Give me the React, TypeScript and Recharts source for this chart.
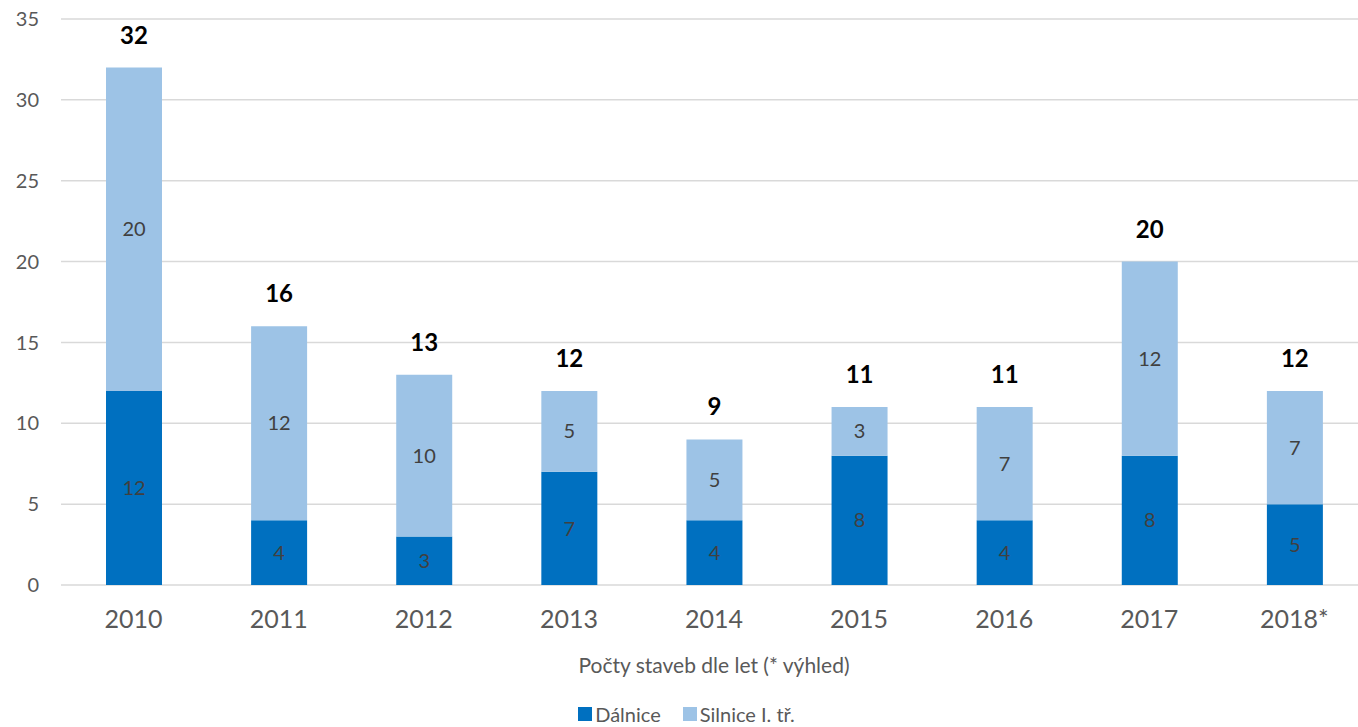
import React from 'react';
import { BarChart, Bar, XAxis, YAxis, CartesianGrid, Legend, LabelList } from 'recharts';

const years = ['2010', '2011', '2012', '2013', '2014', '2015', '2016', '2017', '2018*'];
const dalnice = [12, 4, 3, 7, 4, 8, 4, 8, 5];
const silnice = [20, 12, 10, 5, 5, 3, 7, 12, 7];
const totals = [32, 16, 13, 12, 9, 11, 11, 20, 12];
const yTicks = [0, 5, 10, 15, 20, 25, 30, 35];

const DARK = '#0070C0';
const LIGHT = '#9DC3E6';
const FONT = 'Lato, "Open Sans", sans-serif';

const data = years.map((year, i) => ({
  year,
  dalnice: dalnice[i],
  silnice: silnice[i],
  total: totals[i]
}));

const legendItems = [
  { name: 'Dálnice', color: DARK },
  { name: 'Silnice I. tř.', color: LIGHT }
];

function LegendContent() {
  return (
    <div style={{ display: 'flex', justifyContent: 'center', height: 26, alignItems: 'center', fontFamily: FONT, fontSize: 20, color: '#595959', paddingLeft: 28 }}>
      {legendItems.map((item) => (
        <div key={item.name} style={{ display: 'flex', alignItems: 'center', marginRight: 22 }}>
          <span style={{ display: 'inline-block', width: 14, height: 14, background: item.color, marginRight: 3 }} />
          <span>{item.name}</span>
        </div>
      ))}
    </div>
  );
}

export default function App() {
  return (
    <div style={{ position: 'absolute', left: 0, top: 0, width: 1358, height: 727, overflow: 'hidden', background: '#fff' }}>
      <BarChart
        width={1370}
        height={727}
        data={data}
        margin={{ top: 19, right: 3, bottom: 0, left: 0 }}
        barSize={56}
        style={{ fontFamily: FONT }}
      >
        <CartesianGrid vertical={false} stroke="#d9d9d9" strokeWidth={1.5} />
        <XAxis
          dataKey="year"
          axisLine={false}
          tickLine={false}
          tickSize={0}
          tickMargin={25}
          height={116}
          tick={{ fill: '#595959', fontSize: 25 }}
          label={{ value: 'Počty staveb dle let (* výhled)', position: 'insideBottom', offset: 28, fill: '#595959', fontSize: 21 }}
        />
        <YAxis
          domain={[0, 35]}
          ticks={yTicks}
          axisLine={false}
          tickLine={false}
          tickSize={0}
          tickMargin={22}
          width={61}
          tick={{ fill: '#595959', fontSize: 20 }}
        />
        <Legend verticalAlign="bottom" content={<LegendContent />} />
        <Bar dataKey="dalnice" name="Dálnice" stackId="a" fill={DARK} isAnimationActive={false}>
          <LabelList dataKey="dalnice" position="center" fill="#404040" fontSize={20} />
        </Bar>
        <Bar dataKey="silnice" name="Silnice I. tř." stackId="a" fill={LIGHT} isAnimationActive={false}>
          <LabelList dataKey="silnice" position="center" fill="#404040" fontSize={20} />
          <LabelList dataKey="total" position="top" offset={24} fill="#000" fontSize={24} fontWeight="bold" />
        </Bar>
      </BarChart>
    </div>
  );
}
